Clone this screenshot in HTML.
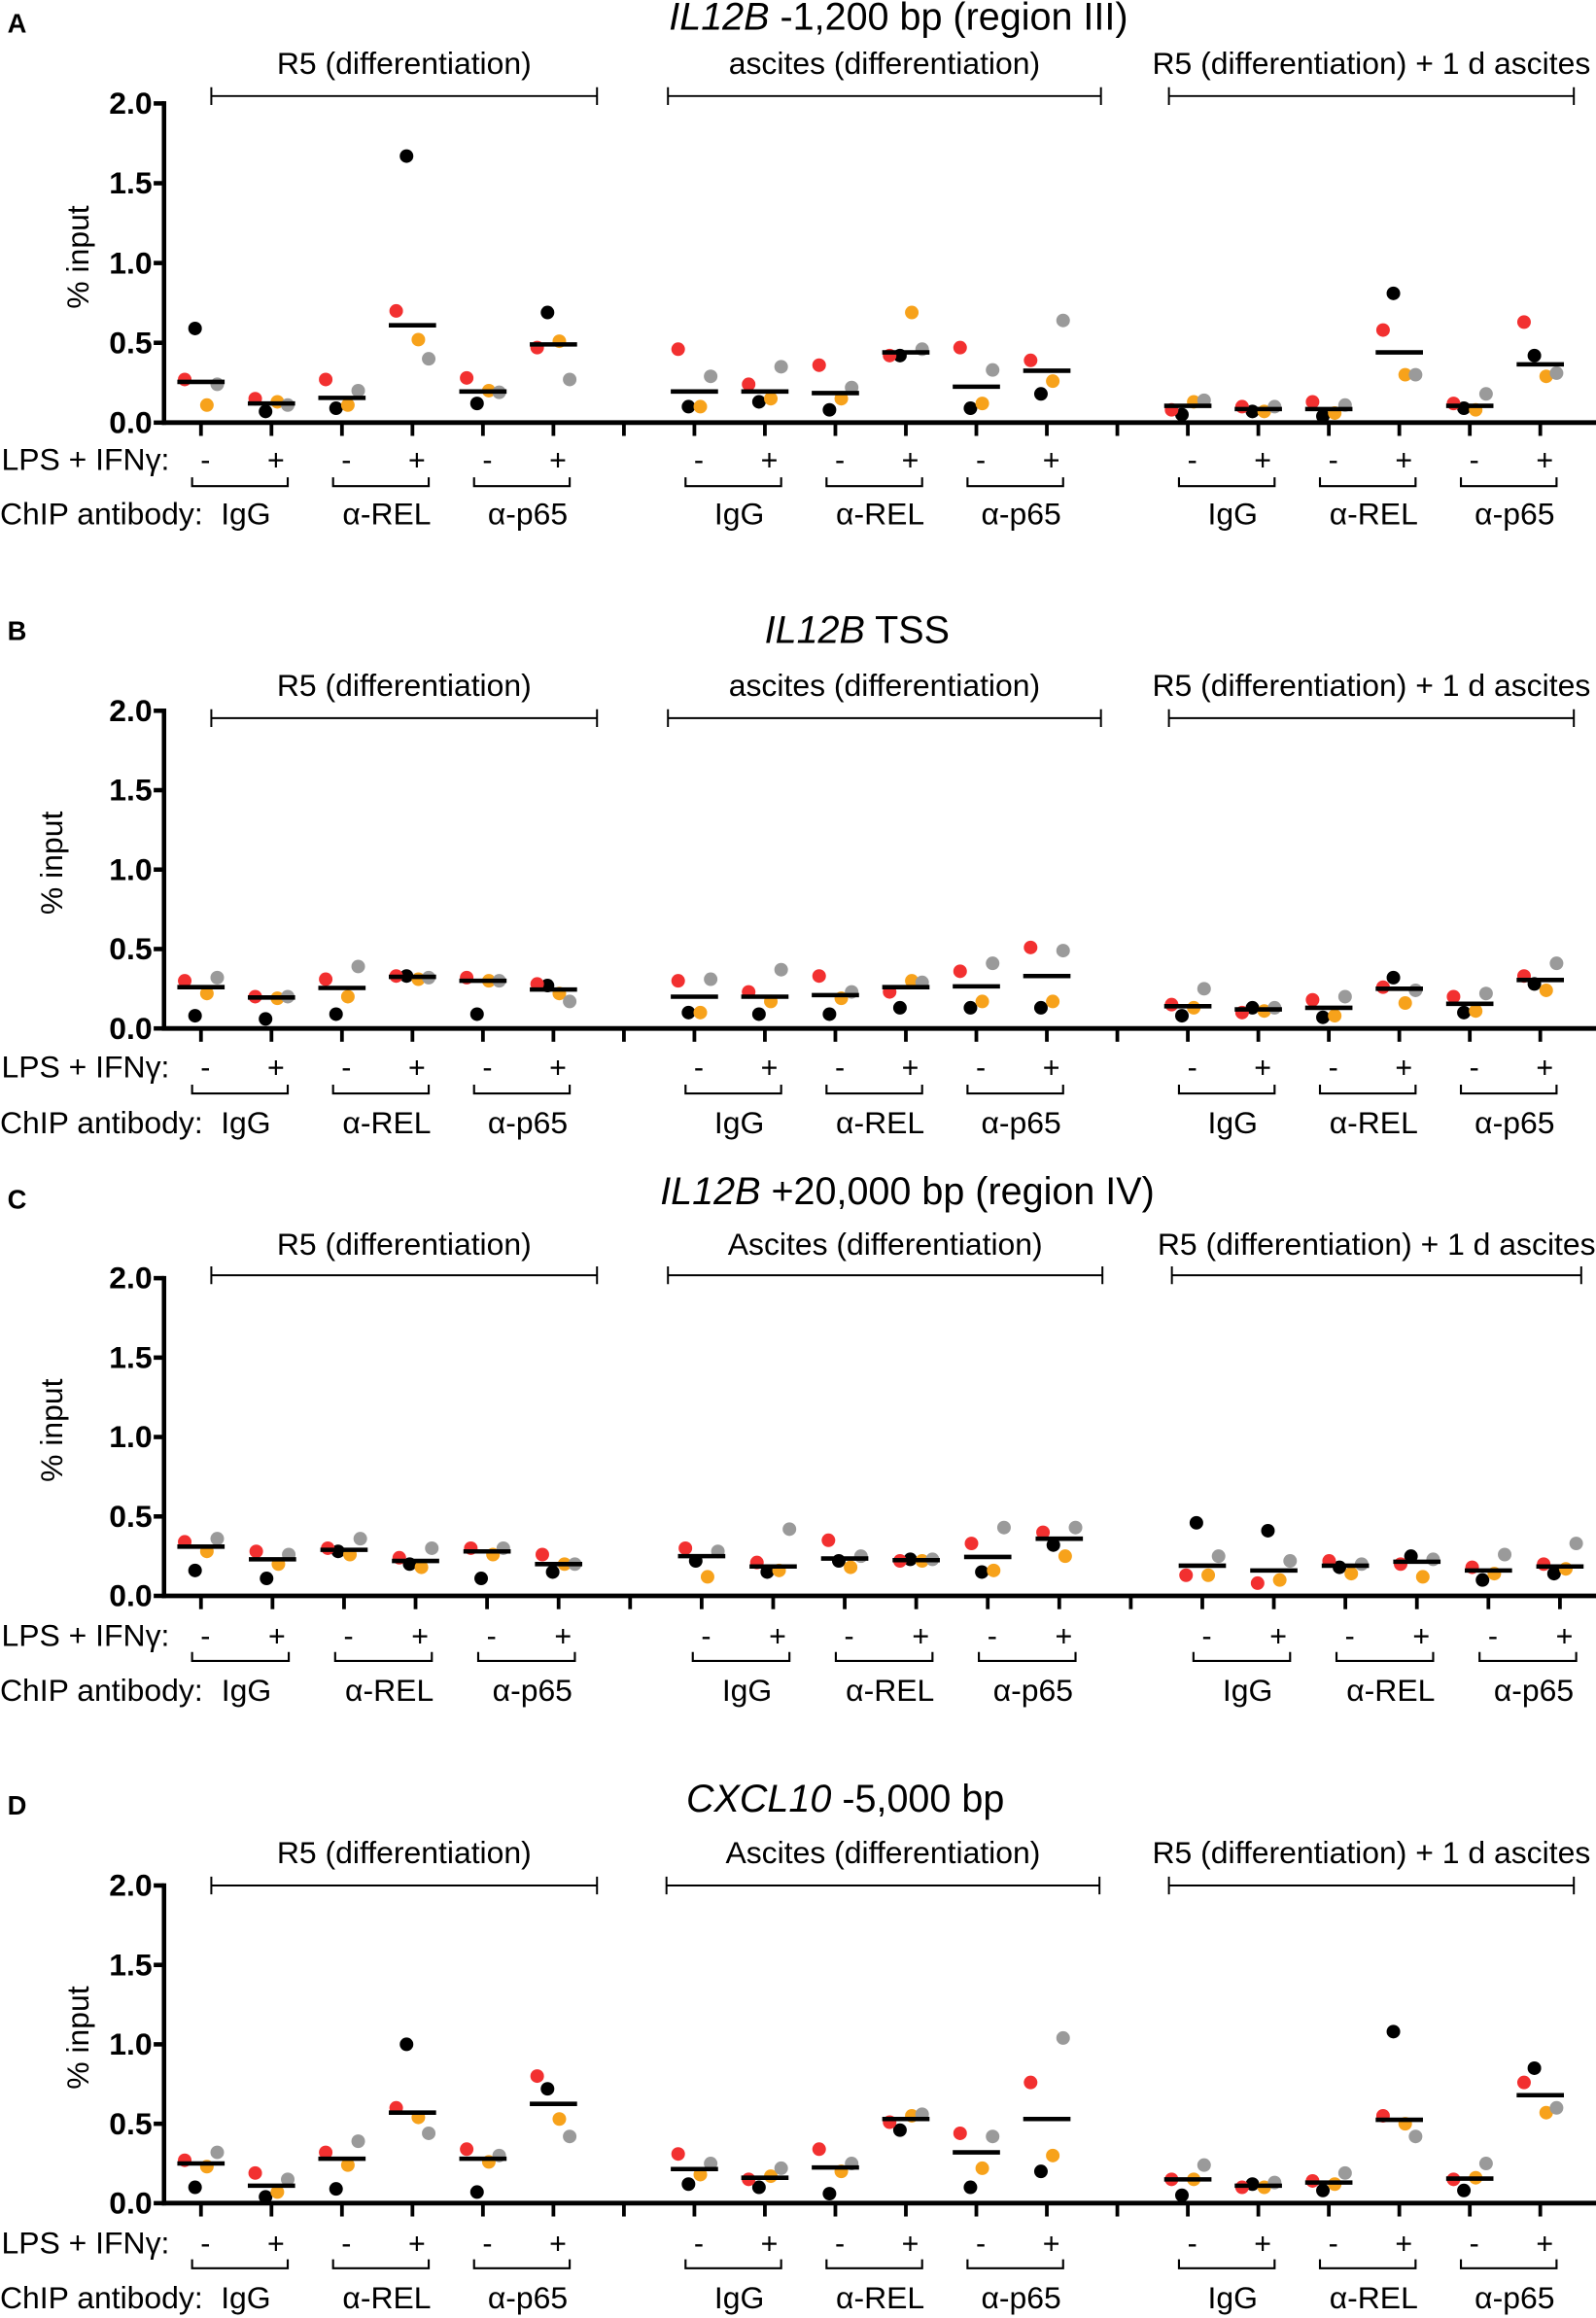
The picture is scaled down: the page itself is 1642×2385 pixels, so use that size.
<!DOCTYPE html>
<html><head><meta charset="utf-8"><style>
html,body{margin:0;padding:0;background:#fff;}
svg{display:block;}
text{font-family:"Liberation Sans Narrow","Liberation Sans",sans-serif;fill:#000;}
</style></head><body>
<svg id="fig" xmlns="http://www.w3.org/2000/svg" width="1642" height="2385" viewBox="0 0 1080 1568.7" preserveAspectRatio="none"></svg>
<script>
// categories: 18 per panel (3 conditions x 3 antibodies x -/+)
const conditionsA = ["R5 (differentiation)", "ascites (differentiation)", "R5 (differentiation) + 1 d ascites"];
const conditionsC = ["R5 (differentiation)", "Ascites (differentiation)", "R5 (differentiation) + 1 d ascites"];
const antibodies = ["IgG", "α-REL", "α-p65"];
const treatments = ["-", "+"];
const yTicks = [0, 0.5, 1.0, 1.5, 2.0];
const yTickLabels = ["0.0", "0.5", "1.0", "1.5", "2.0"];
const donorColors = ["#000000", "#f23030", "#f7a21b", "#9a9a9a"];

// values per donor (black, red, orange, gray) per category
const A_black  = [0.59,0.07,0.09,1.67,0.12,0.69, 0.10,0.13,0.08,0.42,0.09,0.18, 0.05,0.07,0.04,0.81,0.09,0.42];
const A_red    = [0.27,0.15,0.27,0.70,0.28,0.47, 0.46,0.24,0.36,0.42,0.47,0.39, 0.08,0.10,0.13,0.58,0.12,0.63];
const A_orange = [0.11,0.13,0.11,0.52,0.20,0.51, 0.10,0.15,0.15,0.69,0.12,0.26, 0.13,0.07,0.06,0.30,0.08,0.29];
const A_gray   = [0.24,0.11,0.20,0.40,0.19,0.27, 0.29,0.35,0.22,0.46,0.33,0.64, 0.14,0.10,0.11,0.30,0.18,0.31];

const B_black  = [0.08,0.06,0.09,0.33,0.09,0.27, 0.10,0.09,0.09,0.13,0.13,0.13, 0.08,0.13,0.07,0.32,0.10,0.28];
const B_red    = [0.30,0.20,0.31,0.33,0.32,0.28, 0.30,0.23,0.33,0.23,0.36,0.51, 0.15,0.10,0.18,0.26,0.20,0.33];
const B_orange = [0.22,0.19,0.20,0.31,0.30,0.22, 0.10,0.17,0.19,0.30,0.17,0.17, 0.13,0.11,0.08,0.16,0.11,0.24];
const B_gray   = [0.32,0.20,0.39,0.32,0.30,0.17, 0.31,0.37,0.23,0.29,0.41,0.49, 0.25,0.13,0.20,0.24,0.22,0.41];

const C_black  = [0.16,0.11,0.28,0.20,0.11,0.15, 0.22,0.15,0.22,0.23,0.15,0.32, 0.46,0.41,0.18,0.25,0.10,0.14];
const C_red    = [0.34,0.28,0.30,0.24,0.30,0.26, 0.30,0.21,0.35,0.22,0.33,0.40, 0.13,0.08,0.22,0.20,0.18,0.20];
const C_orange = [0.28,0.20,0.26,0.18,0.26,0.20, 0.12,0.16,0.18,0.22,0.16,0.25, 0.13,0.10,0.14,0.12,0.14,0.17];
const C_gray   = [0.36,0.26,0.36,0.30,0.30,0.20, 0.28,0.42,0.25,0.23,0.43,0.43, 0.25,0.22,0.20,0.23,0.26,0.33];

const D_black  = [0.10,0.04,0.09,1.00,0.07,0.72, 0.12,0.10,0.06,0.46,0.10,0.20, 0.05,0.12,0.08,1.08,0.08,0.85];
const D_red    = [0.27,0.19,0.32,0.60,0.34,0.80, 0.31,0.15,0.34,0.51,0.44,0.76, 0.15,0.10,0.14,0.55,0.15,0.76];
const D_orange = [0.23,0.07,0.24,0.54,0.26,0.53, 0.18,0.17,0.20,0.55,0.22,0.30, 0.15,0.10,0.12,0.50,0.16,0.57];
const D_gray   = [0.32,0.15,0.39,0.44,0.30,0.42, 0.25,0.22,0.25,0.56,0.42,1.04, 0.24,0.13,0.19,0.42,0.25,0.60];

const NS = "http://www.w3.org/2000/svg";
const svg = document.getElementById("fig");
function mk(tag, attrs, parent, txt) {
  const e = document.createElementNS(NS, tag);
  for (const k in attrs) e.setAttribute(k, attrs[k]);
  if (txt !== undefined) e.textContent = txt;
  (parent || svg).appendChild(e);
  return e;
}
function median(arr) {
  const s = arr.slice().sort((a, b) => a - b);
  const n = s.length;
  return n % 2 ? s[(n - 1) / 2] : (s[n / 2 - 1] + s[n / 2]) / 2;
}

const panels = [
  {letter:"A", top:0, x0:136, step:47.7, y0:286, y2:70, titleIt:"IL12B", titleRest:" -1,200 bp (region III)", titleX:608, titleY:20,
   conds:conditionsA, gLabelY:50, bracketY:65, gx:[[143,404],[452,745],[791,1065]], lpsY:318, subY:329, chipY:355,
   series:[A_black,A_red,A_orange,A_gray]},
  {letter:"B", top:411, x0:136, step:47.7, y0:696, y2:481, titleIt:"IL12B", titleRest:" TSS", titleX:580, titleY:435,
   conds:conditionsA, gLabelY:471, bracketY:486, gx:[[143,404],[452,745],[791,1065]], lpsY:729, subY:740, chipY:767,
   series:[B_black,B_red,B_orange,B_gray]},
  {letter:"C", top:796, x0:136, step:48.4, y0:1080, y2:865, titleIt:"IL12B", titleRest:" +20,000 bp (region IV)", titleX:614, titleY:815,
   conds:conditionsC, gLabelY:849, bracketY:863, gx:[[143,404],[452,746],[793,1070]], lpsY:1114, subY:1124, chipY:1151,
   series:[C_black,C_red,C_orange,C_gray]},
  {letter:"D", top:1206, x0:136, step:47.7, y0:1491, y2:1276, titleIt:"CXCL10", titleRest:" -5,000 bp", titleX:572, titleY:1226,
   conds:conditionsC, gLabelY:1261, bracketY:1276, gx:[[143,404],[451,744],[791,1065]], lpsY:1525, subY:1535, chipY:1562,
   series:[D_black,D_red,D_orange,D_gray]}
];
const dotDx = [-4, -11, 4, 11];

panels.forEach((p, pi) => {
  const g = mk("g", {});
  
  
  const yScale = v => p.y0 - (p.y0 - p.y2) * v / 2.0;
  const catK = c => c + Math.floor(c / 6);
  const xScale = c => p.x0 + p.step * catK(c);

  const letter = mk("text", {x:5, y:p.top + 22, "font-size":18, "font-weight":"bold", "font-family":"Liberation Sans, sans-serif"}, g, p.letter);
  
  

  const title = mk("text", {x:p.titleX, y:p.titleY, "font-size":26, "text-anchor":"middle"}, g);
  
  
  mk("tspan", {"font-style":"italic"}, title, p.titleIt);
  mk("tspan", {}, title, p.titleRest);

  p.conds.forEach((c, i) => {
    const [a, b] = p.gx[i];
    const t = mk("text", {x:(a + b) / 2, y:p.gLabelY, "font-size":21, "text-anchor":"middle"}, g, c);
    
    
    const br = mk("path", {d:`M${a},${p.bracketY-6}V${p.bracketY+6}M${a},${p.bracketY}H${b}M${b},${p.bracketY-6}V${p.bracketY+6}`, stroke:"#000", "stroke-width":1.3, fill:"none"}, g);
    
    
  });

  const ya = mk("line", {x1:111, y1:p.y2 - 1.5, x2:111, y2:p.y0 + 1.5, stroke:"#000", "stroke-width":3}, g);
  
  
  yTicks.forEach((v, i) => {
    const y = yScale(v);
    mk("line", {x1:104, y1:y, x2:111, y2:y, stroke:"#000", "stroke-width":3}, g);
    const tl = mk("text", {x:103, y:y + 7, "font-size":21, "font-weight":"bold", "text-anchor":"end"}, g, yTickLabels[i]);
    
    
  });
  const yt = mk("text", {x:0, y:0, "font-size":21, "text-anchor":"middle", transform:`translate(${pi===0||pi===3?60:42},${p.y0 - 112}) rotate(-90)`}, g, "% input");
  
  

  const xa = mk("line", {x1:109.5, y1:p.y0, x2:1080, y2:p.y0, stroke:"#000", "stroke-width":3.2}, g);
  
  
  for (let k = 0; k < 20; k++) {
    const x = p.x0 + p.step * k;
    mk("line", {x1:x, y1:p.y0, x2:x, y2:p.y0 + 9, stroke:"#000", "stroke-width":2.5}, g);
  }

  for (let c = 0; c < 18; c++) {
    const x = xScale(c);
    const vals = [];
    p.series.forEach((s, si) => {
      vals.push(s[c]);
      const d = mk("circle", {cx:x + dotDx[si], cy:yScale(s[c]), r:4.6, fill:donorColors[si]}, g);
      
      
    });
    const m = median(vals);
    const ml = mk("line", {x1:x - 16, y1:yScale(m), x2:x + 16, y2:yScale(m), stroke:"#000", "stroke-width":3}, g);
    
    

    const tr = mk("text", {x:x + 3, y:p.lpsY, "font-size":20, "text-anchor":"middle"}, g, treatments[c % 2]);
    
    
  }

  const lps = mk("text", {x:1, y:p.lpsY, "font-size":21}, g, "LPS + IFNγ:");
  
  
  const chip = mk("text", {x:0, y:p.chipY, "font-size":21}, g, "ChIP antibody:");
  
  

  for (let pr = 0; pr < 9; pr++) {
    const a = xScale(pr * 2) - 6, b = xScale(pr * 2 + 1) + 11;
    const sb = mk("path", {d:`M${a},${p.subY-6}V${p.subY}H${b}V${p.subY-6}`, stroke:"#000", "stroke-width":1.4, fill:"none"}, g);
    
    
    const al = mk("text", {x:(a + b) / 2 + 4, y:p.chipY, "font-size":21, "text-anchor":"middle"}, g, antibodies[pr % 3]);
    
    
  }
});
</script>
</body></html>
